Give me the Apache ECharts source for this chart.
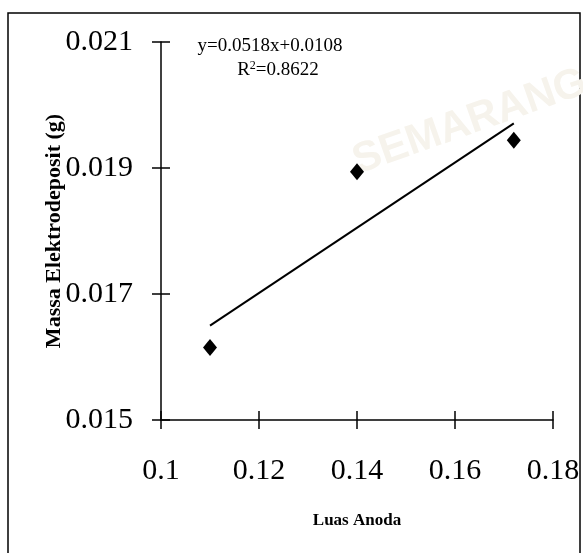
<!DOCTYPE html>
<html>
<head>
<meta charset="utf-8">
<script src="https://cdn.jsdelivr.net/npm/echarts@6/dist/echarts.min.js"></script>
<style>
  html, body { margin: 0; padding: 0; background: #ffffff; }
  #main { width: 583px; height: 553px; }
</style>
</head>
<body>
<div id="main"></div>
<script>
  // data
  var luasAnoda = [0.11, 0.14, 0.172];
  var massa = [0.01615, 0.01894, 0.01944];
  var xTicks = [0.1, 0.12, 0.14, 0.16, 0.18];
  var yTicks = [0.015, 0.017, 0.019, 0.021];
  // trendline from the printed equation
  var slope = 0.0518;
  var intercept = 0.0108;
  var trendX = [0.11, 0.172];

  var points = luasAnoda.map(function (x, i) { return [x, massa[i]]; });
  var trend = trendX.map(function (x) { return [x, slope * x + intercept]; });

  var serif = 'Liberation Serif';
  var black = { color: '#000', width: 1.5 };

  // main axes: line, outer half of the ticks, labels, name
  var xMain = {
    type: 'value', position: 'bottom', min: 0.1, max: 0.18,
    name: 'Luas Anoda', nameLocation: 'middle', nameGap: 92, nameMoveOverlap: false,
    nameTextStyle: { fontFamily: serif, fontSize: 17, fontWeight: 'bold', color: '#000' },
    axisLine: { show: true, onZero: false, lineStyle: black },
    axisTick: { show: true, length: 9, customValues: xTicks, lineStyle: black },
    axisLabel: { customValues: xTicks, margin: 36, fontFamily: serif, fontSize: 30, color: '#000',
      formatter: function (v) { return String(v); } },
    splitLine: { show: false }
  };
  var yMain = {
    type: 'value', position: 'left', min: 0.015, max: 0.021,
    name: 'Massa Elektrodeposit (g)', nameLocation: 'middle', nameGap: 96, nameRotate: 90, nameMoveOverlap: false,
    nameTextStyle: { fontFamily: serif, fontSize: 22, fontWeight: 'bold', color: '#000' },
    axisLine: { show: true, onZero: false, lineStyle: black },
    axisTick: { show: true, length: 9, customValues: yTicks, lineStyle: black },
    axisLabel: { customValues: yTicks, margin: 28, fontFamily: serif, fontSize: 30, color: '#000',
      formatter: function (v) { return String(v); } },
    splitLine: { show: false }
  };
  // tick-only axes on the same sides, counting tick steps, for the inner half of each cross tick
  function innerAxis(pos, steps) {
    return {
      type: 'value', position: pos, min: 0, max: steps, interval: 1,
      axisLine: { show: true, onZero: false, lineStyle: { color: 'rgba(0,0,0,0)', width: 1.5 } },
      axisTick: { show: true, inside: true, length: 9, lineStyle: { color: '#000', width: 1.5 } },
      axisLabel: { show: true, color: 'rgba(0,0,0,0)' },
      splitLine: { show: false }
    };
  }

  var myChart = echarts.init(document.getElementById('main'), null, { renderer: 'canvas' });
  var option = {
    backgroundColor: '#ffffff',
    animation: false,
    grid: { left: 161, right: 30, top: 42, bottom: 133 },
    xAxis: [xMain, innerAxis('bottom', xTicks.length - 1)],
    yAxis: [yMain, innerAxis('left', yTicks.length - 1)],
    graphic: [
      {
        type: 'rect', z: 0,
        shape: { x: 8, y: 13, width: 572, height: 560 },
        style: { fill: null, stroke: '#000', lineWidth: 1.5 }
      },
      {
        type: 'text', z: 0, x: 470, y: 122, rotation: 0.34,
        style: { text: 'SEMARANG', fill: '#f6f3ec', font: 'bold 42px "Liberation Sans"', align: 'center', verticalAlign: 'middle' }
      },
      {
        type: 'text', z: 10, x: 270, y: 46,
        style: { text: 'y=0.0518x+0.0108', fill: '#000', font: '19px "Liberation Serif"', align: 'center', verticalAlign: 'middle' }
      },
      {
        type: 'text', z: 10, x: 278, y: 70,
        style: {
          text: 'R{sup|2}=0.8622', fill: '#000', font: '19px "Liberation Serif"', align: 'center', verticalAlign: 'middle',
          rich: { sup: { fontFamily: serif, fontSize: 12, verticalAlign: 'top', padding: [0, 0, 8, 0] } }
        }
      }
    ],
    series: [
      {
        name: 'Massa', type: 'scatter', xAxisIndex: 0, yAxisIndex: 0,
        symbol: 'diamond', symbolSize: [14, 17],
        itemStyle: { color: '#000', opacity: 1 },
        data: points
      },
      {
        name: 'Trend', type: 'line', xAxisIndex: 0, yAxisIndex: 0,
        showSymbol: false, symbol: 'none',
        lineStyle: { color: '#000', width: 2 },
        data: trend
      },
      {
        // invisible anchor so the tick-only axes get laid out
        name: 'ticks', type: 'scatter', xAxisIndex: 1, yAxisIndex: 1,
        silent: true, symbol: 'none', symbolSize: 0, data: [[0, 0]]
      }
    ]
  };
  myChart.setOption(option);
</script>
</body>
</html>
